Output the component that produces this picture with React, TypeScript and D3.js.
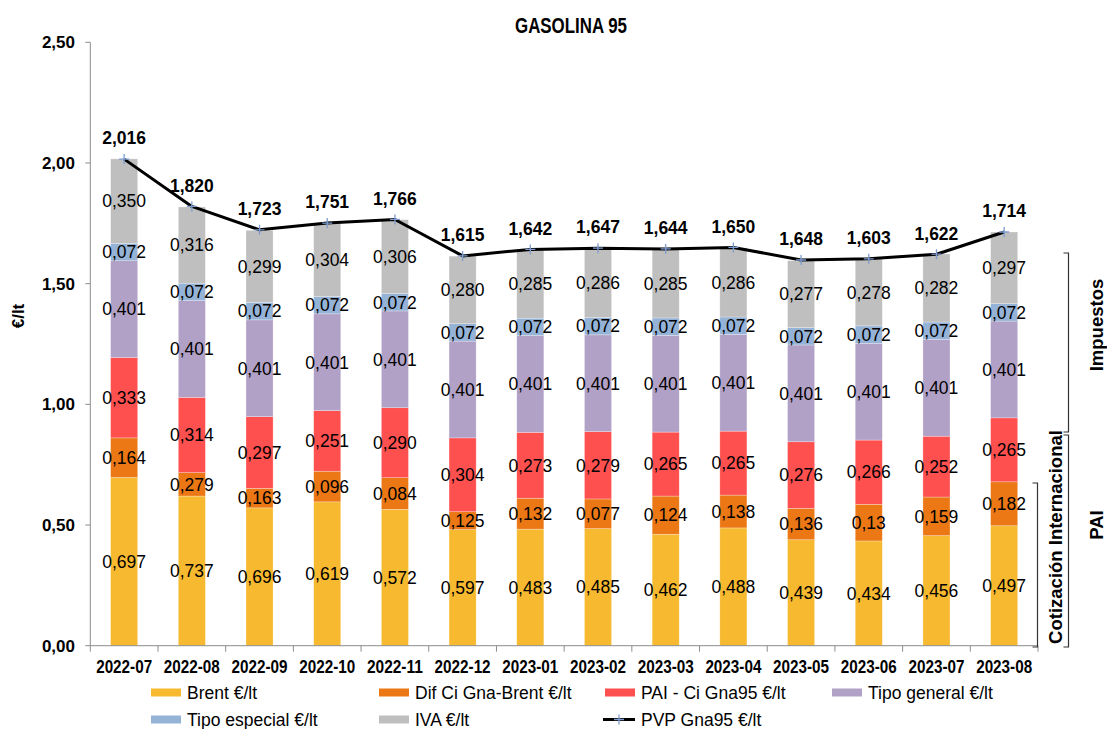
import React, { useEffect, useRef } from 'react';
import * as d3 from 'd3';

const months = ['2022-07', '2022-08', '2022-09', '2022-10', '2022-11', '2022-12', '2023-01',
  '2023-02', '2023-03', '2023-04', '2023-05', '2023-06', '2023-07', '2023-08'];

// bar heights as drawn in the picture
const brent = [0.697, 0.620, 0.571, 0.596, 0.565, 0.481, 0.483, 0.485, 0.462, 0.488, 0.439, 0.434, 0.456, 0.497];
const difCi = [0.164, 0.097, 0.081, 0.127, 0.131, 0.074, 0.128, 0.123, 0.158, 0.136, 0.130, 0.152, 0.160, 0.182];
const paiCi = [0.333, 0.312, 0.297, 0.251, 0.290, 0.306, 0.273, 0.279, 0.265, 0.265, 0.276, 0.266, 0.252, 0.265];
const tipoGeneral = [0.401, 0.401, 0.401, 0.401, 0.401, 0.401, 0.401, 0.401, 0.401, 0.401, 0.401, 0.401, 0.401, 0.401];
const tipoEspecial = [0.072, 0.072, 0.072, 0.072, 0.072, 0.072, 0.072, 0.072, 0.072, 0.072, 0.072, 0.072, 0.072, 0.072];
const iva = [0.350, 0.316, 0.299, 0.304, 0.306, 0.280, 0.285, 0.286, 0.285, 0.286, 0.277, 0.278, 0.282, 0.297];
const pvp = [2.016, 1.820, 1.723, 1.751, 1.766, 1.615, 1.642, 1.647, 1.644, 1.650, 1.598, 1.603, 1.622, 1.714];

// data labels as printed (some differ from the drawn heights)
const brentLabels = ['0,697', '0,737', '0,696', '0,619', '0,572', '0,597', '0,483', '0,485', '0,462', '0,488', '0,439', '0,434', '0,456', '0,497'];
const difLabels = ['0,164', '0,279', '0,163', '0,096', '0,084', '0,125', '0,132', '0,077', '0,124', '0,138', '0,136', '0,13', '0,159', '0,182'];
const paiLabels = ['0,333', '0,314', '0,297', '0,251', '0,290', '0,304', '0,273', '0,279', '0,265', '0,265', '0,276', '0,266', '0,252', '0,265'];
const pvpLabels = ['2,016', '1,820', '1,723', '1,751', '1,766', '1,615', '1,642', '1,647', '1,644', '1,650', '1,648', '1,603', '1,622', '1,714'];

const seriesNames = ['Brent €/lt', 'Dif Ci Gna-Brent €/lt', 'PAI - Ci Gna95 €/lt', 'Tipo general €/lt', 'Tipo especial €/lt', 'IVA €/lt'];
const seriesColors = ['#F7B92F', '#EB7815', '#FF5050', '#B2A1C7', '#95B3D7', '#BFBFBF'];
const yTicks = [0, 0.5, 1, 1.5, 2, 2.5];

const W = 1107;
const H = 729;
const FONT = '"Liberation Sans", Arial, sans-serif';
const fmt = (v: number) => v.toFixed(3).replace('.', ',');

const App = () => {
  const svgRef = useRef<SVGSVGElement>(null);

  useEffect(() => {
    const svg = d3.select(svgRef.current);
    svg.selectAll('*').remove();

    const left = 90.3, right = 1038, top = 42.3, bottom = 645.7;
    const x = d3.scaleBand().domain(months).range([left, right]).padding(0);
    const y = d3.scaleLinear().domain([0, 2.5]).range([bottom, top]);
    const barW = x.bandwidth() * 0.4;
    const cx = (m: string) => (x(m) as number) + x.bandwidth() / 2;

    const table = months.map((m, i) => ({
      month: m, s0: brent[i], s1: difCi[i], s2: paiCi[i], s3: tipoGeneral[i], s4: tipoEspecial[i], s5: iva[i],
    }));
    const keys = ['s0', 's1', 's2', 's3', 's4', 's5'];
    const stacked = d3.stack<any>().keys(keys)(table);
    const labelSets = [brentLabels, difLabels, paiLabels, tipoGeneral.map(fmt), tipoEspecial.map(fmt), iva.map(fmt)];

    // title
    svg.append('text')
      .attr('x', 571).attr('y', 33)
      .attr('text-anchor', 'middle')
      .attr('textLength', 112).attr('lengthAdjust', 'spacingAndGlyphs')
      .style('font-family', FONT).style('font-weight', 'bold').style('font-size', '22px')
      .text('GASOLINA 95');

    // bars
    const layers = svg.append('g');
    stacked.forEach((layer, k) => {
      layers.append('g')
        .selectAll('rect')
        .data(layer)
        .enter()
        .append('rect')
        .attr('x', (d: any) => cx(d.data.month) - barW / 2)
        .attr('width', barW)
        .attr('y', (d: any) => y(d[1]))
        .attr('height', (d: any) => y(d[0]) - y(d[1]))
        .attr('fill', seriesColors[k])
        .attr('stroke', '#ffffff')
        .attr('stroke-opacity', 0.45)
        .attr('stroke-width', 0.6);
    });

    // segment labels
    stacked.forEach((layer, k) => {
      svg.append('g')
        .selectAll('text')
        .data(layer)
        .enter()
        .append('text')
        .attr('x', (d: any) => cx(d.data.month))
        .attr('y', (d: any) => y((d[0] + d[1]) / 2))
        .attr('dy', '0.36em')
        .attr('text-anchor', 'middle')
        .style('font-family', FONT).style('font-size', '17.5px').style('fill', '#000')
        .text((d: any, i: number) => labelSets[k][i]);
    });

    // axes
    const axisColor = '#8C8C8C';
    svg.append('line').attr('x1', left).attr('x2', left).attr('y1', top).attr('y2', bottom)
      .attr('stroke', axisColor).attr('stroke-width', 1);
    svg.append('line').attr('x1', left).attr('x2', right).attr('y1', bottom).attr('y2', bottom)
      .attr('stroke', axisColor).attr('stroke-width', 1);

    const yAxis = svg.append('g');
    yAxis.selectAll('line').data(yTicks).enter().append('line')
      .attr('x1', left - 5).attr('x2', left).attr('y1', d => y(d)).attr('y2', d => y(d))
      .attr('stroke', axisColor);
    yAxis.selectAll('text').data(yTicks).enter().append('text')
      .attr('x', 75).attr('y', d => y(d)).attr('dy', '0.36em')
      .attr('text-anchor', 'end')
      .style('font-family', FONT).style('font-weight', 'bold').style('font-size', '17px')
      .text(d => d.toFixed(2).replace('.', ','));

    const xAxis = svg.append('g');
    xAxis.selectAll('line').data(months.concat(['end'])).enter().append('line')
      .attr('x1', (d, i) => left + i * x.step()).attr('x2', (d, i) => left + i * x.step())
      .attr('y1', bottom).attr('y2', bottom + 6)
      .attr('stroke', axisColor);
    xAxis.selectAll('text').data(months).enter().append('text')
      .attr('x', d => cx(d)).attr('y', 666).attr('dy', '0.36em')
      .attr('text-anchor', 'middle')
      .attr('textLength', 56).attr('lengthAdjust', 'spacingAndGlyphs')
      .style('font-family', FONT).style('font-weight', 'bold').style('font-size', '18.5px')
      .text(d => d);

    // y axis title
    svg.append('text')
      .attr('transform', 'translate(24, 316) rotate(-90)')
      .attr('text-anchor', 'middle')
      .style('font-family', FONT).style('font-weight', 'bold').style('font-size', '17px')
      .text('€/lt');

    // PVP line
    const line = d3.line<number>()
      .x((d, i) => cx(months[i]))
      .y(d => y(d));
    svg.append('path')
      .datum(pvp)
      .attr('d', line)
      .attr('fill', 'none')
      .attr('stroke', '#000')
      .attr('stroke-width', 3)
      .attr('stroke-linejoin', 'round');

    const marks = svg.append('g');
    pvp.forEach((v, i) => {
      const px = cx(months[i]), py = y(v);
      marks.append('path')
        .attr('d', `M${px - 5},${py}H${px + 5}M${px},${py - 5}V${py + 5}`)
        .attr('stroke', '#7F9CD0').attr('stroke-width', 1.3);
    });

    svg.append('g')
      .selectAll('text')
      .data(pvp)
      .enter()
      .append('text')
      .attr('x', (d, i) => cx(months[i]))
      .attr('y', d => y(d) - 21)
      .attr('dy', '0.36em')
      .attr('text-anchor', 'middle')
      .style('font-family', FONT).style('font-weight', 'bold').style('font-size', '17.5px')
      .text((d, i) => pvpLabels[i]);

    // brackets on the right
    const brackets = [
      { x: 1068.5, y1: 253, y2: 432 },
      { x: 1068.5, y1: 435, y2: 647 },
      { x: 1037.5, y1: 483, y2: 647 },
    ];
    brackets.forEach(b => {
      svg.append('path')
        .attr('d', `M${b.x - 5},${b.y1}H${b.x}V${b.y2}H${b.x - 5}`)
        .attr('fill', 'none').attr('stroke', '#333').attr('stroke-width', 1.2);
    });
    const sideLabels = [
      { text: 'Impuestos', x: 1096, y: 325 },
      { text: 'Cotización Internacional', x: 1055, y: 537 },
      { text: 'PAI', x: 1096, y: 525 },
    ];
    sideLabels.forEach(s => {
      svg.append('text')
        .attr('transform', `translate(${s.x}, ${s.y}) rotate(-90)`)
        .attr('text-anchor', 'middle').attr('dy', '0.36em')
        .style('font-family', FONT).style('font-weight', 'bold').style('font-size', '18.5px')
        .text(s.text);
    });

    // legend
    const legendCols = [151, 379, 605, 832];
    const legendRows = [692.5, 719.5];
    const legendItems = seriesNames.map((n, i) => ({ name: n, color: seriesColors[i], line: false }))
      .concat([{ name: 'PVP Gna95 €/lt', color: '#000', line: true }]);
    legendItems.forEach((item, i) => {
      const lx = legendCols[i % 4];
      const ly = legendRows[Math.floor(i / 4)];
      if (item.line) {
        svg.append('line').attr('x1', lx - 2).attr('x2', lx + 30).attr('y1', ly).attr('y2', ly)
          .attr('stroke', '#000').attr('stroke-width', 3);
        svg.append('path')
          .attr('d', `M${lx + 9},${ly}H${lx + 19}M${lx + 14},${ly - 5}V${ly + 5}`)
          .attr('stroke', '#7F9CD0').attr('stroke-width', 1.3);
      } else {
        svg.append('rect').attr('x', lx).attr('y', ly - 4).attr('width', 30).attr('height', 8)
          .attr('fill', item.color);
      }
      svg.append('text')
        .attr('x', lx + 36).attr('y', ly).attr('dy', '0.36em')
        .style('font-family', FONT).style('font-size', '17.5px')
        .text(item.name);
    });
  }, []);

  return (
    <svg ref={svgRef} width={W} height={H} viewBox={`0 0 ${W} ${H}`}
      style={{ position: 'absolute', left: 0, top: 0, background: '#fff' }}>
    </svg>
  );
};

export default App;
